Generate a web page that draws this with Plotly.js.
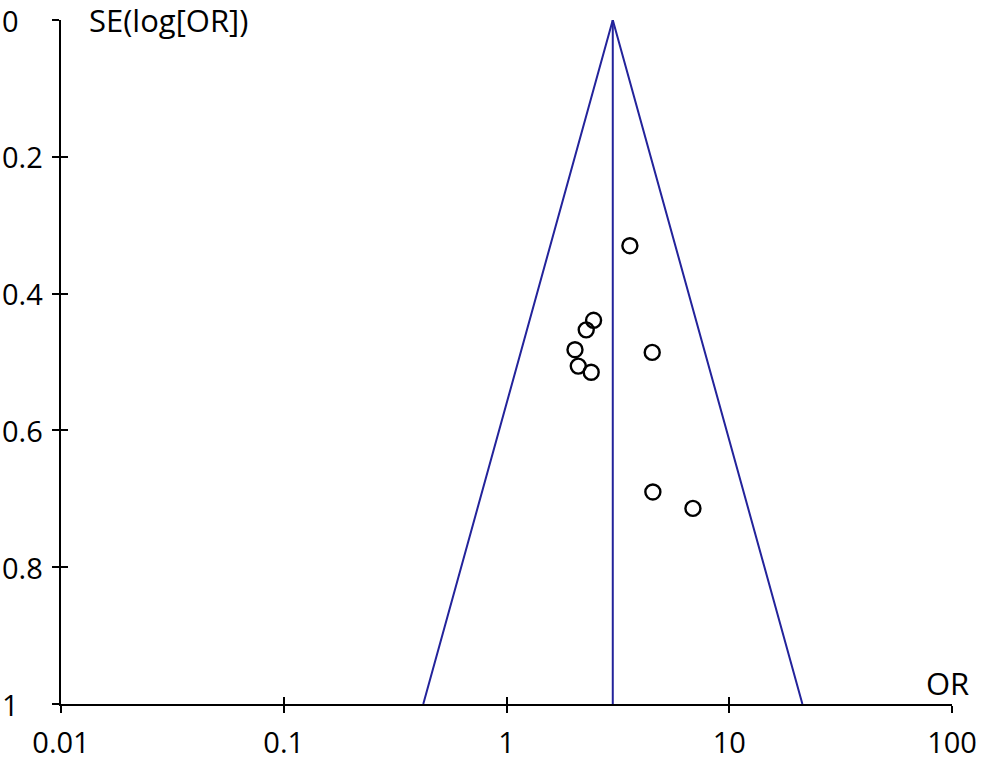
<!DOCTYPE html>
<html>
<head>
<meta charset="utf-8">
<script src="https://cdn.plot.ly/plotly-3.0.1.min.js"></script>
<style>html,body{margin:0;padding:0;background:#fff;}#chart{width:984px;height:762px;}</style>
</head>
<body>
<div id="chart"></div>
<script>
// Study odds ratios and their standard errors of log(OR)
const studyOR = [3.58, 2.46, 2.28, 2.03, 2.10, 2.40, 4.51, 4.54, 6.87];
const studySE = [0.330, 0.439, 0.453, 0.482, 0.506, 0.515, 0.486, 0.690, 0.714];
// Funnel (pseudo 95% limits) and pooled estimate
const funnelOR = [0.423, 3.0, 21.3];
const funnelSE = [1, 0, 1];
const pooledOR = [3.0, 3.0];
const pooledSE = [0, 1];
// Axis ticks
const xTickVals = [0.01, 0.1, 1, 10, 100];
const xTickText = ['0.01', '0.1', '1', '10', '100'];
const yTickVals = [0, 0.2, 0.4, 0.6, 0.8, 1];
const yTickText = ['0', '0.2', '0.4', '0.6', '0.8', '1'];

const FONT = 'Open Sans, sans-serif';
const lineColor = '#23239b';

const traces = [
  {x: funnelOR, y: funnelSE, mode: 'lines', type: 'scatter',
   line: {color: lineColor, width: 2}, hoverinfo: 'skip', showlegend: false},
  {x: pooledOR, y: pooledSE, mode: 'lines', type: 'scatter',
   line: {color: lineColor, width: 2}, hoverinfo: 'skip', showlegend: false},
  {x: studyOR, y: studySE, mode: 'markers', type: 'scatter',
   marker: {symbol: 'circle-open', size: 15, color: '#000', line: {width: 2.4, color: '#000'}},
   showlegend: false}
];

const yLabelAnnotations = yTickVals.map((v, i) => ({
  x: 0, xref: 'paper', xshift: -61, y: v, yref: 'y', text: yTickText[i],
  xanchor: 'left', yanchor: 'middle', showarrow: false,
  font: {family: FONT, size: 29, color: '#000'}
}));

const layout = {
  width: 984, height: 762,
  margin: {l: 61, r: 32, t: 20, b: 58},
  paper_bgcolor: '#fff', plot_bgcolor: '#fff',
  showlegend: false,
  xaxis: {
    type: 'log', range: [-2, 2], tickvals: xTickVals, ticktext: xTickText,
    showgrid: false, zeroline: false, showline: true, linecolor: '#000', linewidth: 2,
    ticks: 'outside', ticklen: 7, tickwidth: 2, tickcolor: '#000',
    tickfont: {family: FONT, size: 29, color: '#000'}, ticklabelstandoff: 5,
    anchor: 'y'
  },
  xaxis2: {
    type: 'log', range: [-2, 2], tickvals: xTickVals, overlaying: 'x', matches: 'x',
    showgrid: false, zeroline: false, showline: false, showticklabels: false,
    ticks: 'inside', ticklen: 7, tickwidth: 2, tickcolor: '#000', anchor: 'y', side: 'bottom'
  },
  yaxis: {
    range: [1, 0], tickvals: yTickVals, showticklabels: false,
    showgrid: false, zeroline: false, showline: true, linecolor: '#000', linewidth: 2,
    ticks: 'outside', ticklen: 7, tickwidth: 2, tickcolor: '#000', anchor: 'x'
  },
  yaxis2: {
    range: [1, 0], tickvals: yTickVals, overlaying: 'y', matches: 'y',
    showgrid: false, zeroline: false, showline: false, showticklabels: false,
    ticks: 'inside', ticklen: 7, tickwidth: 2, tickcolor: '#000', anchor: 'x', side: 'left'
  },
  annotations: yLabelAnnotations.concat([
    {x: 0, xref: 'paper', xshift: 27, y: 0, yref: 'y', yshift: 0, borderpad: 0, text: 'SE(log[OR])',
     xanchor: 'left', yanchor: 'middle', showarrow: false,
     font: {family: FONT, size: 31, color: '#000'}},
    {x: 1, xref: 'paper', xshift: -5, y: 1, yref: 'y', yshift: 21, text: 'OR',
     xanchor: 'center', yanchor: 'middle', showarrow: false,
     font: {family: FONT, size: 31, color: '#000'}}
  ])
};

// dummy trace to activate overlay axes
traces.push({x: [1], y: [0.5], xaxis: 'x2', yaxis: 'y2', mode: 'markers',
  marker: {opacity: 0}, hoverinfo: 'skip', showlegend: false});

Plotly.newPlot('chart', traces, layout, {displayModeBar: false, staticPlot: true});
</script>
</body>
</html>
